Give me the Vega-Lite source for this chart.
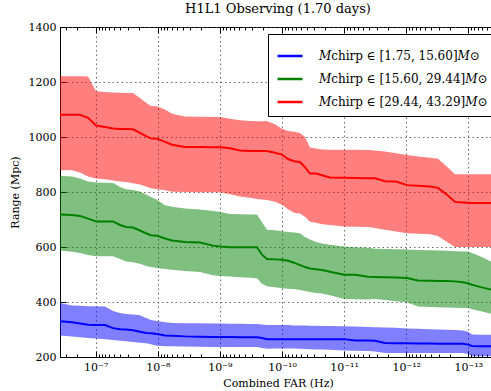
{
  "$schema": "https://vega.github.io/schema/vega-lite/v6.json",
  "autosize": {"type": "none"},
  "padding": {"left": 60, "top": 27, "right": 0, "bottom": 34},
  "width": 436,
  "height": 330,
  "background": "white",
  "title": {"text": "H1L1 Observing (1.70 days)", "font": "DejaVu Serif", "fontSize": 13, "fontWeight": "normal", "color": "black", "offset": 5},
  "config": {
    "view": {"stroke": "black", "strokeWidth": 1},
    "axis": {"labelFont": "DejaVu Serif", "titleFont": "DejaVu Serif", "labelColor": "black", "titleColor": "black", "titleFontWeight": "normal", "domainColor": "black", "tickColor": "black"}
  },
  "datasets": {
    "ranges": [
      {"bin":"[1.75, 15.60]","far":3.76e-7,"lo":278,"mid":330,"hi":396},
      {"bin":"[1.75, 15.60]","far":2.41e-7,"lo":275,"mid":326,"hi":387},
      {"bin":"[1.75, 15.60]","far":1.79e-7,"lo":272,"mid":322,"hi":386},
      {"bin":"[1.75, 15.60]","far":1.33e-7,"lo":269,"mid":317,"hi":385},
      {"bin":"[1.75, 15.60]","far":9.89e-8,"lo":267,"mid":316,"hi":385},
      {"bin":"[1.75, 15.60]","far":7.08e-8,"lo":265,"mid":316,"hi":384},
      {"bin":"[1.75, 15.60]","far":5.26e-8,"lo":262,"mid":305,"hi":367},
      {"bin":"[1.75, 15.60]","far":4.06e-8,"lo":259,"mid":301,"hi":360},
      {"bin":"[1.75, 15.60]","far":3.25e-8,"lo":257,"mid":300,"hi":356},
      {"bin":"[1.75, 15.60]","far":2.51e-8,"lo":255,"mid":297,"hi":355},
      {"bin":"[1.75, 15.60]","far":1.94e-8,"lo":252,"mid":292,"hi":352},
      {"bin":"[1.75, 15.60]","far":1.55e-8,"lo":250,"mid":287,"hi":342},
      {"bin":"[1.75, 15.60]","far":1.29e-8,"lo":246,"mid":286,"hi":335},
      {"bin":"[1.75, 15.60]","far":1.03e-8,"lo":241,"mid":284,"hi":331},
      {"bin":"[1.75, 15.60]","far":7.66e-9,"lo":239,"mid":278,"hi":326},
      {"bin":"[1.75, 15.60]","far":5.90e-9,"lo":239,"mid":277,"hi":324},
      {"bin":"[1.75, 15.60]","far":3.65e-9,"lo":238,"mid":275,"hi":323},
      {"bin":"[1.75, 15.60]","far":2.09e-9,"lo":237,"mid":274,"hi":323},
      {"bin":"[1.75, 15.60]","far":1.29e-9,"lo":236,"mid":273,"hi":322},
      {"bin":"[1.75, 15.60]","far":9.95e-10,"lo":236,"mid":273,"hi":322},
      {"bin":"[1.75, 15.60]","far":6.87e-10,"lo":236,"mid":273,"hi":321},
      {"bin":"[1.75, 15.60]","far":4.74e-10,"lo":236,"mid":272,"hi":321},
      {"bin":"[1.75, 15.60]","far":3.27e-10,"lo":236,"mid":272,"hi":320},
      {"bin":"[1.75, 15.60]","far":2.53e-10,"lo":236,"mid":272,"hi":320},
      {"bin":"[1.75, 15.60]","far":2.10e-10,"lo":233,"mid":269,"hi":318},
      {"bin":"[1.75, 15.60]","far":1.75e-10,"lo":230,"mid":265,"hi":316},
      {"bin":"[1.75, 15.60]","far":1.30e-10,"lo":231,"mid":265,"hi":316},
      {"bin":"[1.75, 15.60]","far":1.00e-10,"lo":231,"mid":265,"hi":316},
      {"bin":"[1.75, 15.60]","far":8.00e-11,"lo":231,"mid":265,"hi":316},
      {"bin":"[1.75, 15.60]","far":6.41e-11,"lo":231,"mid":265,"hi":315},
      {"bin":"[1.75, 15.60]","far":5.13e-11,"lo":230,"mid":265,"hi":315},
      {"bin":"[1.75, 15.60]","far":4.27e-11,"lo":229,"mid":265,"hi":315},
      {"bin":"[1.75, 15.60]","far":3.54e-11,"lo":228,"mid":265,"hi":314},
      {"bin":"[1.75, 15.60]","far":2.83e-11,"lo":227,"mid":265,"hi":314},
      {"bin":"[1.75, 15.60]","far":2.27e-11,"lo":227,"mid":265,"hi":313},
      {"bin":"[1.75, 15.60]","far":1.69e-11,"lo":226,"mid":265,"hi":313},
      {"bin":"[1.75, 15.60]","far":1.00e-11,"lo":224,"mid":265,"hi":312},
      {"bin":"[1.75, 15.60]","far":6.67e-12,"lo":223,"mid":260,"hi":311},
      {"bin":"[1.75, 15.60]","far":4.12e-12,"lo":222,"mid":260,"hi":309},
      {"bin":"[1.75, 15.60]","far":3.18e-12,"lo":220,"mid":259,"hi":308},
      {"bin":"[1.75, 15.60]","far":2.19e-12,"lo":215,"mid":251,"hi":307},
      {"bin":"[1.75, 15.60]","far":1.46e-12,"lo":215,"mid":250,"hi":306},
      {"bin":"[1.75, 15.60]","far":9.70e-13,"lo":215,"mid":250,"hi":304},
      {"bin":"[1.75, 15.60]","far":6.46e-13,"lo":215,"mid":249,"hi":303},
      {"bin":"[1.75, 15.60]","far":4.14e-13,"lo":215,"mid":249,"hi":301},
      {"bin":"[1.75, 15.60]","far":3.08e-13,"lo":215,"mid":248,"hi":300},
      {"bin":"[1.75, 15.60]","far":2.20e-13,"lo":215,"mid":248,"hi":299},
      {"bin":"[1.75, 15.60]","far":1.64e-13,"lo":215,"mid":248,"hi":298},
      {"bin":"[1.75, 15.60]","far":1.22e-13,"lo":215,"mid":248,"hi":296},
      {"bin":"[1.75, 15.60]","far":1.01e-13,"lo":211,"mid":245,"hi":292},
      {"bin":"[1.75, 15.60]","far":8.71e-14,"lo":204,"mid":240,"hi":282},
      {"bin":"[1.75, 15.60]","far":6.49e-14,"lo":203,"mid":239,"hi":281},
      {"bin":"[1.75, 15.60]","far":4.48e-14,"lo":203,"mid":239,"hi":281},
      {"bin":"[1.75, 15.60]","far":3.58e-14,"lo":203,"mid":239,"hi":281},

      {"bin":"[15.60, 29.44]","far":3.76e-7,"lo":587,"mid":718,"hi":859},
      {"bin":"[15.60, 29.44]","far":2.41e-7,"lo":583,"mid":716,"hi":856},
      {"bin":"[15.60, 29.44]","far":1.79e-7,"lo":578,"mid":713,"hi":849},
      {"bin":"[15.60, 29.44]","far":1.33e-7,"lo":571,"mid":703,"hi":838},
      {"bin":"[15.60, 29.44]","far":9.89e-8,"lo":566,"mid":693,"hi":835},
      {"bin":"[15.60, 29.44]","far":7.08e-8,"lo":566,"mid":693,"hi":834},
      {"bin":"[15.60, 29.44]","far":5.26e-8,"lo":566,"mid":693,"hi":833},
      {"bin":"[15.60, 29.44]","far":4.06e-8,"lo":556,"mid":680,"hi":818},
      {"bin":"[15.60, 29.44]","far":3.25e-8,"lo":547,"mid":673,"hi":810},
      {"bin":"[15.60, 29.44]","far":2.51e-8,"lo":545,"mid":671,"hi":807},
      {"bin":"[15.60, 29.44]","far":1.94e-8,"lo":539,"mid":660,"hi":802},
      {"bin":"[15.60, 29.44]","far":1.55e-8,"lo":531,"mid":650,"hi":791},
      {"bin":"[15.60, 29.44]","far":1.29e-8,"lo":527,"mid":643,"hi":782},
      {"bin":"[15.60, 29.44]","far":1.03e-8,"lo":524,"mid":641,"hi":772},
      {"bin":"[15.60, 29.44]","far":7.66e-9,"lo":520,"mid":631,"hi":752},
      {"bin":"[15.60, 29.44]","far":5.90e-9,"lo":517,"mid":624,"hi":746},
      {"bin":"[15.60, 29.44]","far":3.65e-9,"lo":513,"mid":618,"hi":740},
      {"bin":"[15.60, 29.44]","far":2.09e-9,"lo":509,"mid":616,"hi":736},
      {"bin":"[15.60, 29.44]","far":1.29e-9,"lo":497,"mid":605,"hi":731},
      {"bin":"[15.60, 29.44]","far":9.95e-10,"lo":495,"mid":602,"hi":727},
      {"bin":"[15.60, 29.44]","far":6.87e-10,"lo":493,"mid":599,"hi":720},
      {"bin":"[15.60, 29.44]","far":4.74e-10,"lo":490,"mid":599,"hi":719},
      {"bin":"[15.60, 29.44]","far":3.27e-10,"lo":488,"mid":599,"hi":718},
      {"bin":"[15.60, 29.44]","far":2.53e-10,"lo":486,"mid":599,"hi":718},
      {"bin":"[15.60, 29.44]","far":2.10e-10,"lo":466,"mid":572,"hi":690},
      {"bin":"[15.60, 29.44]","far":1.75e-10,"lo":457,"mid":556,"hi":663},
      {"bin":"[15.60, 29.44]","far":1.30e-10,"lo":454,"mid":555,"hi":661},
      {"bin":"[15.60, 29.44]","far":1.00e-10,"lo":450,"mid":554,"hi":657},
      {"bin":"[15.60, 29.44]","far":8.00e-11,"lo":448,"mid":550,"hi":655},
      {"bin":"[15.60, 29.44]","far":6.41e-11,"lo":447,"mid":543,"hi":653},
      {"bin":"[15.60, 29.44]","far":5.13e-11,"lo":444,"mid":534,"hi":650},
      {"bin":"[15.60, 29.44]","far":4.27e-11,"lo":440,"mid":527,"hi":636},
      {"bin":"[15.60, 29.44]","far":3.54e-11,"lo":436,"mid":522,"hi":627},
      {"bin":"[15.60, 29.44]","far":2.83e-11,"lo":433,"mid":519,"hi":618},
      {"bin":"[15.60, 29.44]","far":2.27e-11,"lo":431,"mid":516,"hi":613},
      {"bin":"[15.60, 29.44]","far":1.69e-11,"lo":425,"mid":510,"hi":608},
      {"bin":"[15.60, 29.44]","far":1.00e-11,"lo":411,"mid":499,"hi":602},
      {"bin":"[15.60, 29.44]","far":6.67e-12,"lo":410,"mid":499,"hi":599},
      {"bin":"[15.60, 29.44]","far":4.12e-12,"lo":409,"mid":492,"hi":597},
      {"bin":"[15.60, 29.44]","far":3.18e-12,"lo":411,"mid":491,"hi":594},
      {"bin":"[15.60, 29.44]","far":2.19e-12,"lo":407,"mid":490,"hi":593},
      {"bin":"[15.60, 29.44]","far":1.46e-12,"lo":403,"mid":489,"hi":592},
      {"bin":"[15.60, 29.44]","far":9.70e-13,"lo":399,"mid":487,"hi":591},
      {"bin":"[15.60, 29.44]","far":6.46e-13,"lo":384,"mid":478,"hi":589},
      {"bin":"[15.60, 29.44]","far":4.14e-13,"lo":382,"mid":477,"hi":588},
      {"bin":"[15.60, 29.44]","far":3.08e-13,"lo":381,"mid":476,"hi":587},
      {"bin":"[15.60, 29.44]","far":2.20e-13,"lo":380,"mid":476,"hi":586},
      {"bin":"[15.60, 29.44]","far":1.64e-13,"lo":379,"mid":475,"hi":585},
      {"bin":"[15.60, 29.44]","far":1.22e-13,"lo":378,"mid":472,"hi":584},
      {"bin":"[15.60, 29.44]","far":1.01e-13,"lo":378,"mid":468,"hi":584},
      {"bin":"[15.60, 29.44]","far":8.71e-14,"lo":374,"mid":463,"hi":578},
      {"bin":"[15.60, 29.44]","far":6.49e-14,"lo":367,"mid":455,"hi":566},
      {"bin":"[15.60, 29.44]","far":4.48e-14,"lo":358,"mid":446,"hi":549},
      {"bin":"[15.60, 29.44]","far":3.58e-14,"lo":353,"mid":441,"hi":540},

      {"bin":"[29.44, 43.29]","far":3.76e-7,"lo":879,"mid":1081,"hi":1221},
      {"bin":"[29.44, 43.29]","far":2.41e-7,"lo":879,"mid":1081,"hi":1221},
      {"bin":"[29.44, 43.29]","far":1.79e-7,"lo":871,"mid":1081,"hi":1221},
      {"bin":"[29.44, 43.29]","far":1.33e-7,"lo":856,"mid":1070,"hi":1220},
      {"bin":"[29.44, 43.29]","far":9.89e-8,"lo":849,"mid":1042,"hi":1166},
      {"bin":"[29.44, 43.29]","far":7.08e-8,"lo":846,"mid":1036,"hi":1164},
      {"bin":"[29.44, 43.29]","far":5.26e-8,"lo":842,"mid":1031,"hi":1162},
      {"bin":"[29.44, 43.29]","far":4.06e-8,"lo":838,"mid":1029,"hi":1161},
      {"bin":"[29.44, 43.29]","far":3.25e-8,"lo":836,"mid":1029,"hi":1160},
      {"bin":"[29.44, 43.29]","far":2.51e-8,"lo":832,"mid":1028,"hi":1160},
      {"bin":"[29.44, 43.29]","far":1.94e-8,"lo":827,"mid":1015,"hi":1142},
      {"bin":"[29.44, 43.29]","far":1.55e-8,"lo":820,"mid":1003,"hi":1125},
      {"bin":"[29.44, 43.29]","far":1.29e-8,"lo":814,"mid":995,"hi":1113},
      {"bin":"[29.44, 43.29]","far":1.03e-8,"lo":810,"mid":994,"hi":1112},
      {"bin":"[29.44, 43.29]","far":7.66e-9,"lo":806,"mid":982,"hi":1100},
      {"bin":"[29.44, 43.29]","far":5.90e-9,"lo":801,"mid":972,"hi":1085},
      {"bin":"[29.44, 43.29]","far":3.65e-9,"lo":800,"mid":964,"hi":1075},
      {"bin":"[29.44, 43.29]","far":2.09e-9,"lo":799,"mid":964,"hi":1074},
      {"bin":"[29.44, 43.29]","far":1.29e-9,"lo":799,"mid":963,"hi":1073},
      {"bin":"[29.44, 43.29]","far":9.95e-10,"lo":799,"mid":963,"hi":1073},
      {"bin":"[29.44, 43.29]","far":6.87e-10,"lo":792,"mid":959,"hi":1066},
      {"bin":"[29.44, 43.29]","far":4.74e-10,"lo":784,"mid":951,"hi":1061},
      {"bin":"[29.44, 43.29]","far":3.27e-10,"lo":779,"mid":949,"hi":1058},
      {"bin":"[29.44, 43.29]","far":2.53e-10,"lo":775,"mid":949,"hi":1057},
      {"bin":"[29.44, 43.29]","far":2.10e-10,"lo":773,"mid":949,"hi":1057},
      {"bin":"[29.44, 43.29]","far":1.75e-10,"lo":771,"mid":949,"hi":1058},
      {"bin":"[29.44, 43.29]","far":1.30e-10,"lo":765,"mid":943,"hi":1046},
      {"bin":"[29.44, 43.29]","far":1.00e-10,"lo":754,"mid":936,"hi":1030},
      {"bin":"[29.44, 43.29]","far":8.00e-11,"lo":737,"mid":920,"hi":1022},
      {"bin":"[29.44, 43.29]","far":6.41e-11,"lo":725,"mid":912,"hi":1019},
      {"bin":"[29.44, 43.29]","far":5.13e-11,"lo":722,"mid":909,"hi":1015},
      {"bin":"[29.44, 43.29]","far":4.27e-11,"lo":710,"mid":890,"hi":1000},
      {"bin":"[29.44, 43.29]","far":3.54e-11,"lo":692,"mid":867,"hi":962},
      {"bin":"[29.44, 43.29]","far":2.83e-11,"lo":688,"mid":867,"hi":958},
      {"bin":"[29.44, 43.29]","far":2.27e-11,"lo":683,"mid":861,"hi":955},
      {"bin":"[29.44, 43.29]","far":1.69e-11,"lo":680,"mid":853,"hi":954},
      {"bin":"[29.44, 43.29]","far":1.00e-11,"lo":675,"mid":852,"hi":954},
      {"bin":"[29.44, 43.29]","far":6.67e-12,"lo":674,"mid":851,"hi":954},
      {"bin":"[29.44, 43.29]","far":4.12e-12,"lo":673,"mid":850,"hi":953},
      {"bin":"[29.44, 43.29]","far":3.18e-12,"lo":669,"mid":850,"hi":951},
      {"bin":"[29.44, 43.29]","far":2.19e-12,"lo":663,"mid":839,"hi":947},
      {"bin":"[29.44, 43.29]","far":1.46e-12,"lo":656,"mid":838,"hi":941},
      {"bin":"[29.44, 43.29]","far":9.70e-13,"lo":650,"mid":825,"hi":935},
      {"bin":"[29.44, 43.29]","far":6.46e-13,"lo":648,"mid":823,"hi":929},
      {"bin":"[29.44, 43.29]","far":4.14e-13,"lo":646,"mid":820,"hi":925},
      {"bin":"[29.44, 43.29]","far":3.08e-13,"lo":640,"mid":815,"hi":921},
      {"bin":"[29.44, 43.29]","far":2.20e-13,"lo":618,"mid":790,"hi":892},
      {"bin":"[29.44, 43.29]","far":1.64e-13,"lo":600,"mid":764,"hi":865},
      {"bin":"[29.44, 43.29]","far":1.22e-13,"lo":600,"mid":762,"hi":865},
      {"bin":"[29.44, 43.29]","far":1.01e-13,"lo":600,"mid":761,"hi":865},
      {"bin":"[29.44, 43.29]","far":8.71e-14,"lo":600,"mid":760,"hi":865},
      {"bin":"[29.44, 43.29]","far":6.49e-14,"lo":600,"mid":760,"hi":865},
      {"bin":"[29.44, 43.29]","far":4.48e-14,"lo":600,"mid":760,"hi":865},
      {"bin":"[29.44, 43.29]","far":3.58e-14,"lo":600,"mid":760,"hi":865}
    ]
  },
  "data": {"name": "ranges"},
  "encoding": {
    "x": {
      "field": "far", "type": "quantitative", "title": "Combined FAR (Hz)",
      "scale": {"type": "log", "domain": [3.58e-14, 3.76e-7], "reverse": true, "nice": false},
      "axis": {
        "values": [4e-14,5e-14,6e-14,7e-14,8e-14,9e-14,1e-13,2e-13,3e-13,4e-13,5e-13,6e-13,7e-13,8e-13,9e-13,1e-12,2e-12,3e-12,4e-12,5e-12,6e-12,7e-12,8e-12,9e-12,1e-11,2e-11,3e-11,4e-11,5e-11,6e-11,7e-11,8e-11,9e-11,1e-10,2e-10,3e-10,4e-10,5e-10,6e-10,7e-10,8e-10,9e-10,1e-9,2e-9,3e-9,4e-9,5e-9,6e-9,7e-9,8e-9,9e-9,1e-8,2e-8,3e-8,4e-8,5e-8,6e-8,7e-8,8e-8,9e-8,1e-7,2e-7,3e-7],
        "labelExpr": "abs(log(datum.value)/LN10 - round(log(datum.value)/LN10)) < 0.01 ? ['10⁻⁷','10⁻⁸','10⁻⁹','10⁻¹⁰','10⁻¹¹','10⁻¹²','10⁻¹³'][-7 - round(log(datum.value)/LN10)] : ''",
        "labelOverlap": false,
        "labelFontSize": 11,
        "labelPadding": 10,
        "titleFontSize": 11,
        "titlePadding": 2,
        "tickSize": {"condition": {"test": "abs(log(datum.value)/LN10 - round(log(datum.value)/LN10)) < 0.01", "value": -6}, "value": -3},
        "grid": true,
        "gridColor": "#444",
        "gridDash": [1.5, 3],
        "gridWidth": 0.8,
        "gridOpacity": {"condition": {"test": "abs(log(datum.value)/LN10 - round(log(datum.value)/LN10)) < 0.01", "value": 1}, "value": 0}
      }
    },
    "y": {
      "field": "mid", "type": "quantitative", "title": "Range (Mpc)",
      "scale": {"domain": [200, 1400], "nice": false, "zero": false},
      "axis": {"values": [200,400,600,800,1000,1200,1400], "format": "d", "labelFontSize": 11, "titleFontSize": 11, "tickSize": -6, "labelPadding": 10, "titlePadding": 8,
        "grid": true, "gridColor": "#444", "gridDash": [1.5, 3], "gridWidth": 0.8}
    }
  },
  "resolve": {"axis": {"x": "independent", "y": "independent"}, "legend": {"color": "independent"}},
  "layer": [
    {
      "mark": {"type": "area", "opacity": 0.5},
      "encoding": {
        "y": {"field": "hi", "type": "quantitative"},
        "y2": {"field": "lo"},
        "color": {"field": "bin", "type": "nominal", "legend": null,
          "scale": {"domain": ["[1.75, 15.60]", "[15.60, 29.44]", "[29.44, 43.29]"], "range": ["#0000ff", "#008000", "#ff0000"]}}
      }
    },
    {
      "mark": {"type": "line", "strokeWidth": 2},
      "encoding": {
        "x": {
          "field": "far", "type": "quantitative",
          "axis": {
            "orient": "top", "title": null, "labels": false, "grid": false, "domain": false,
            "values": [4e-14,5e-14,6e-14,7e-14,8e-14,9e-14,1e-13,2e-13,3e-13,4e-13,5e-13,6e-13,7e-13,8e-13,9e-13,1e-12,2e-12,3e-12,4e-12,5e-12,6e-12,7e-12,8e-12,9e-12,1e-11,2e-11,3e-11,4e-11,5e-11,6e-11,7e-11,8e-11,9e-11,1e-10,2e-10,3e-10,4e-10,5e-10,6e-10,7e-10,8e-10,9e-10,1e-9,2e-9,3e-9,4e-9,5e-9,6e-9,7e-9,8e-9,9e-9,1e-8,2e-8,3e-8,4e-8,5e-8,6e-8,7e-8,8e-8,9e-8,1e-7,2e-7,3e-7],
            "tickSize": {"condition": {"test": "abs(log(datum.value)/LN10 - round(log(datum.value)/LN10)) < 0.01", "value": -6}, "value": -3}
          }
        },
        "y": {
          "field": "mid", "type": "quantitative",
          "axis": {"orient": "right", "title": null, "labels": false, "grid": false, "domain": false, "values": [200,400,600,800,1000,1200,1400], "tickSize": -6}
        },
        "color": {
          "field": "bin", "type": "nominal",
          "scale": {"domain": ["[1.75, 15.60]", "[15.60, 29.44]", "[29.44, 43.29]"], "range": ["#0000ff", "#008000", "#ff0000"]},
          "legend": {
            "title": null, "orient": "none", "legendX": 208, "legendY": 7,
            "labelExpr": "'𝑀chirp ∈ ' + datum.label + '𝑀⊙'",
            "labelFont": "DejaVu Serif", "labelFontSize": 12, "labelColor": "black", "labelLimit": 400,
            "symbolType": "stroke", "symbolSize": 625, "symbolStrokeWidth": 2.5,
            "strokeColor": "black", "fillColor": "white", "padding": 8, "rowPadding": 3, "labelOffset": 15, "cornerRadius": 0
          }
        }
      }
    }
  ]
}
